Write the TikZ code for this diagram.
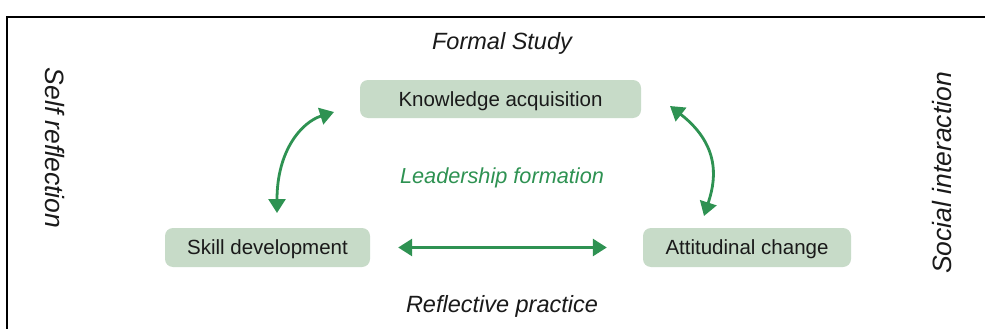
\documentclass[tikz,border=0pt]{standalone}
\usepackage{fontspec}
\setmainfont{Liberation Sans}
\usetikzlibrary{arrows.meta}
\definecolor{boxgreen}{RGB}{199,219,200}
\definecolor{arrgreen}{RGB}{46,146,82}
\definecolor{inkcol}{RGB}{26,26,26}
\begin{document}
\begin{tikzpicture}[x=1pt,y=1pt,
  stage/.style={fill=boxgreen, rounded corners=8pt, inner sep=0pt,
    font=\fontsize{20.5}{24}\selectfont, text height=14.7pt, text depth=0pt, text=inkcol},
  theme/.style={font=\fontsize{23.5}{27}\selectfont\itshape, text=inkcol, inner sep=0pt, anchor=base},
  side/.style={font=\fontsize{26.5}{30}\selectfont\itshape, text=inkcol, inner sep=0pt},
  link/.style={draw=arrgreen, line width=2.8pt,
    {Triangle[length=14pt,width=17pt]}-{Triangle[length=14pt,width=17pt]}},
  frame/.style={line width=1.6pt, draw=black}
]
\useasboundingbox (0,0) rectangle (985,-329);
\fill[white] (0,0) rectangle (985,-329);
% frame
\draw[frame] (985,-17) -- (7,-17) -- (7,-329);

% stages
\node[stage, minimum width=281pt, minimum height=38pt] (know) at (500.5,-99) {Knowledge acquisition};
\node[stage, minimum width=205pt, minimum height=39pt] (skill) at (267.5,-247.5) {Skill development};
\node[stage, minimum width=208pt, minimum height=39pt] (att) at (747,-247.5) {Attitudinal change};

% themes
\node[theme] (formal) at (502,-49) {Formal Study};
\node[theme, text=arrgreen, font=\fontsize{21.7}{26}\selectfont\itshape] (lead) at (502,-183) {Leadership formation};
\node[theme] (refl) at (502,-312) {Reflective practice};
\node[side, rotate=-90] (self) at (55,-148) {Self reflection};
\node[side, rotate=90] (social) at (942,-173) {Social interaction};

% connector ends
\coordinate (skup) at (277,-213);
\coordinate (knleft) at (334,-112);
\coordinate (knright) at (670,-106);
\coordinate (atup) at (704,-216);

\draw[link] (skup) .. controls (277,-150) and (302,-122) .. (knleft);
\draw[link] (atup) .. controls (714,-185) and (724,-148) .. (knright);
\draw[link] ([xshift=28pt]skill.east) -- ([xshift=-36pt]att.west);
\end{tikzpicture}
\end{document}
